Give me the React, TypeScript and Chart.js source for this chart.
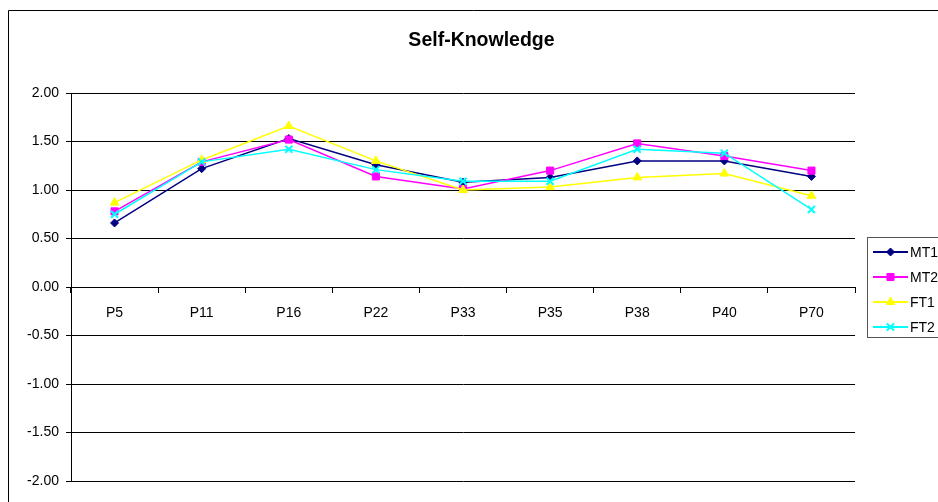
import React, { useEffect, useRef } from "react";
import { Chart, registerables } from "chart.js";

Chart.register(...registerables);

const categories = ["P5", "P11", "P16", "P22", "P33", "P35", "P38", "P40", "P70"];
const mt1 = [0.66, 1.22, 1.53, 1.26, 1.08, 1.13, 1.30, 1.30, 1.14];
const mt2 = [0.78, 1.29, 1.52, 1.14, 1.01, 1.20, 1.48, 1.35, 1.20];
const ft1 = [0.87, 1.31, 1.66, 1.30, 1.00, 1.03, 1.13, 1.17, 0.94];
const ft2 = [0.75, 1.29, 1.42, 1.21, 1.09, 1.09, 1.42, 1.38, 0.80];
const seriesNames = ["MT1", "MT2", "FT1", "FT2"];
const titleText = "Self-Knowledge";
const yMin = -2;
const yMax = 2;
const yStep = 0.5;

const FONT = "'Liberation Sans', Arial, sans-serif";

type Style = { color: string; point: string; radius: number; pw: number };
const styles: Style[] = [
  { color: "#000080", point: "rectRot", radius: 4, pw: 1 },
  { color: "#FF00FF", point: "rect", radius: 5, pw: 1 },
  { color: "#FFFF00", point: "triangle", radius: 5, pw: 1 },
  { color: "#00FFFF", point: "crossRot", radius: 5, pw: 2 },
];

function drawMarker(ctx: CanvasRenderingContext2D, kind: string, x: number, y: number, r: number, color: string, pw: number) {
  ctx.save();
  ctx.fillStyle = color;
  ctx.strokeStyle = color;
  ctx.lineWidth = pw;
  ctx.beginPath();
  if (kind === "rectRot") {
    ctx.moveTo(x, y - r);
    ctx.lineTo(x + r, y);
    ctx.lineTo(x, y + r);
    ctx.lineTo(x - r, y);
    ctx.closePath();
    ctx.fill();
    ctx.stroke();
  } else if (kind === "rect") {
    const s = r * Math.SQRT1_2;
    ctx.rect(x - s, y - s, 2 * s, 2 * s);
    ctx.fill();
    ctx.stroke();
  } else if (kind === "triangle") {
    const h = r * 1.5;
    const half = r * Math.sqrt(3) / 2;
    ctx.moveTo(x, y - r);
    ctx.lineTo(x + half, y + h - r);
    ctx.lineTo(x - half, y + h - r);
    ctx.closePath();
    ctx.fill();
    ctx.stroke();
  } else {
    const o = r * Math.SQRT1_2;
    ctx.moveTo(x - o, y - o);
    ctx.lineTo(x + o, y + o);
    ctx.moveTo(x - o, y + o);
    ctx.lineTo(x + o, y - o);
    ctx.stroke();
  }
  ctx.restore();
}

const decorPlugin = {
  id: "decor",
  afterDraw(chart: any) {
    const ctx: CanvasRenderingContext2D = chart.ctx;
    ctx.save();
    // outer chart border
    ctx.strokeStyle = "#000";
    ctx.lineWidth = 1;
    ctx.beginPath();
    ctx.moveTo(8.5, 520);
    ctx.lineTo(8.5, 10.5);
    ctx.lineTo(960, 10.5);
    ctx.stroke();
    // title
    ctx.fillStyle = "#000";
    ctx.font = `bold 19.5px ${FONT}`;
    ctx.textAlign = "center";
    ctx.textBaseline = "alphabetic";
    ctx.fillText(titleText, 481.5, 46);
    // legend box
    ctx.strokeStyle = "#555";
    ctx.lineWidth = 1;
    ctx.strokeRect(867.5, 237.5, 100, 100);
    ctx.font = `14px ${FONT}`;
    ctx.textAlign = "left";
    ctx.textBaseline = "middle";
    seriesNames.forEach((name, i) => {
      const y = 252 + i * 25;
      const st = styles[i];
      ctx.strokeStyle = st.color;
      ctx.lineWidth = 2;
      ctx.beginPath();
      ctx.moveTo(873, y);
      ctx.lineTo(908, y);
      ctx.stroke();
      drawMarker(ctx, st.point, 890.5, y, st.radius, st.color, st.pw);
      ctx.fillStyle = "#000";
      ctx.fillText(name, 910, y + 1);
    });
    ctx.restore();
  },
};

export default function App() {
  const ref = useRef<HTMLCanvasElement | null>(null);
  useEffect(() => {
    if (!ref.current) return;
    const all = [mt1, mt2, ft1, ft2];
    const chart = new Chart(ref.current, {
      type: "line",
      data: {
        labels: categories,
        datasets: all.map((d, i) => ({
          label: seriesNames[i],
          data: d,
          borderColor: styles[i].color,
          backgroundColor: styles[i].color,
          pointBackgroundColor: styles[i].color,
          pointBorderColor: styles[i].color,
          pointStyle: styles[i].point as any,
          pointRadius: styles[i].radius,
          pointBorderWidth: styles[i].pw,
          borderWidth: 1.5,
          tension: 0,
          fill: false,
          order: 3 - i,
        })),
      },
      options: {
        animation: false,
        responsive: false,
        events: [],
        layout: { padding: { top: 93, left: 8, right: 83, bottom: 21 } },
        plugins: {
          legend: { display: false },
          title: { display: false },
          tooltip: { enabled: false },
        },
        scales: {
          x: {
            type: "category",
            position: { y: 0 } as any,
            offset: true,
            grid: {
              display: true,
              drawOnChartArea: false,
              drawTicks: true,
              tickLength: 5,
              color: "#000",
              offset: true,
            },
            border: { display: true, color: "#000", width: 1 },
            ticks: {
              color: "#000",
              font: { family: FONT, size: 14 },
              padding: 13,
              maxRotation: 0,
              autoSkip: false,
            },
          },
          y: {
            min: yMin,
            max: yMax,
            afterFit: (scale: any) => {
              scale.width = 63;
            },
            grid: {
              color: "#000",
              lineWidth: 1,
              drawTicks: true,
              tickLength: 5,
            },
            border: { display: true, color: "#000", width: 1 },
            ticks: {
              stepSize: yStep,
              color: "#000",
              font: { family: FONT, size: 14 },
              padding: 7,
              callback: (v: any) => Number(v).toFixed(2),
            },
          },
        },
      },
      plugins: [decorPlugin],
    });
    return () => chart.destroy();
  }, []);
  return (
    <div style={{ position: "fixed", left: 0, top: 0, width: 938, height: 502, background: "#fff" }}>
      <canvas ref={ref} width={938} height={502} style={{ width: 938, height: 502, display: "block" }} />
    </div>
  );
}
